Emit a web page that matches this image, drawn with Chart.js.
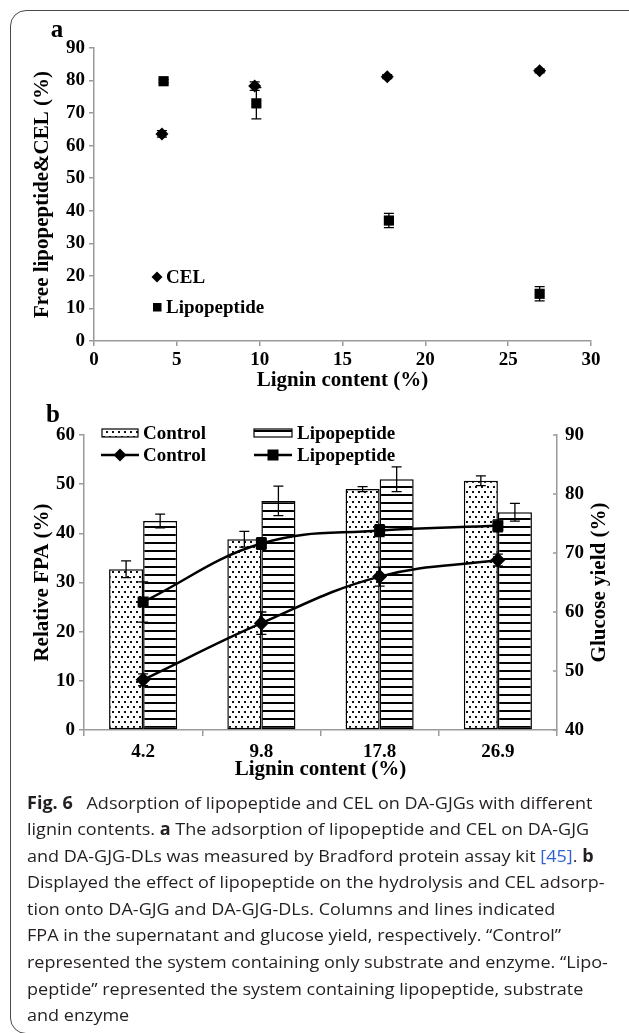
<!DOCTYPE html>
<html>
<head>
<meta charset="utf-8">
<script src="https://cdn.jsdelivr.net/npm/chart.js@4/dist/chart.umd.min.js"></script>
<style>
  html, body { margin: 0; padding: 0; background: #fff; width: 629px; height: 1033px; overflow: hidden; }
  #frame { position: absolute; left: 10px; top: 10px; width: 700px; height: 1022px; border: 1.4px solid #4a4a4a; border-radius: 16px; }
  canvas { position: absolute; left: 0; }
  #ca { top: 0; }
  #cb { top: 395px; }
  #cap { position: absolute; left: 26.5px; top: 789.5px; font-family: "Open Sans", sans-serif; font-size: 17px; line-height: 26.6px; color: #231f20; transform-origin: 0 0; white-space: nowrap; }
  #cap .ln { display: block; }
  #cap .ln span.t { display: inline-block; }
  #cap b { font-weight: 700; }
  .fig { margin-right: 13px; }
  .ref { color: #2f5fd0; }
</style>
</head>
<body>
<div id="frame"></div>
<canvas id="ca" width="629" height="400"></canvas>
<canvas id="cb" width="629" height="400"></canvas>
<div id="cap">
  <div class="ln"><span class="t"><b class="fig">Fig. 6</b>Adsorption of lipopeptide and CEL on DA-GJGs with different</span></div>
  <div class="ln"><span class="t">lignin contents. <b>a</b> The adsorption of lipopeptide and CEL on DA-GJG</span></div>
  <div class="ln"><span class="t">and DA-GJG-DLs was measured by Bradford protein assay kit <span class="ref">[45]</span>. <b>b</b></span></div>
  <div class="ln"><span class="t" id="l4">Displayed the effect of lipopeptide on the hydrolysis and CEL adsorp-</span></div>
  <div class="ln"><span class="t">tion onto DA-GJG and DA-GJG-DLs. Columns and lines indicated</span></div>
  <div class="ln"><span class="t">FPA in the supernatant and glucose yield, respectively. “Control”</span></div>
  <div class="ln"><span class="t">represented the system containing only substrate and enzyme. “Lipo-</span></div>
  <div class="ln"><span class="t">peptide” represented the system containing lipopeptide, substrate</span></div>
  <div class="ln"><span class="t">and enzyme</span></div>
</div>
<script>
// ---------- Panel a data ----------
const aCELLignin = [4.1, 9.7, 17.7, 26.9];
const aCEL = [63.6, 78.3, 81.2, 83.0];
const aCELErr = [1.0, 1.3, 0.6, 0.6];
const aLipoLignin = [4.2, 9.8, 17.8, 26.9];
const aLipo = [79.8, 73.0, 37.0, 14.5];
const aLipoErr = [0.5, 4.8, 2.2, 2.2];
const aXTicks = [0, 30, 5];   // min, max, step
const aYTicks = [0, 90, 10];

// ---------- Panel b data ----------
const bCategories = ['4.2', '9.8', '17.8', '26.9'];
const bFpaControl = [32.7, 38.8, 49.0, 50.7];
const bFpaControlErr = [1.7, 1.6, 0.5, 1.0];
const bFpaLipo = [42.5, 46.6, 51.0, 44.3];
const bFpaLipoErr = [1.4, 3.0, 2.5, 1.8];
const bGlucoseControl = [48.5, 58.1, 66.0, 68.8];
const bGlucoseControlErr = [1.0, 1.9, 1.6, 1.0];
const bGlucoseLipo = [61.7, 71.6, 73.8, 74.6];
const bGlucoseLipoErr = [3.4, 1.0, 1.0, 1.0];
const bLeftTicks = [0, 60, 10];
const bRightTicks = [40, 90, 10];

const SERIF = '"Liberation Serif", "Times New Roman", serif';
Chart.defaults.font.family = SERIF;
Chart.defaults.font.weight = 'bold';
Chart.defaults.color = '#000';

const AXIS = '#9a9a9a';

// ---------- patterns ----------
function dotPattern(ctx) {
  const c = document.createElement('canvas'); c.width = 6; c.height = 10;
  const g = c.getContext('2d');
  g.fillStyle = '#fff'; g.fillRect(0, 0, 6, 10);
  g.fillStyle = '#111';
  g.fillRect(1, 1, 2, 2); g.fillRect(4, 6, 2, 2);
  return ctx.createPattern(c, 'repeat');
}
function stripePattern(ctx) {
  const c = document.createElement('canvas'); c.width = 4; c.height = 8;
  const g = c.getContext('2d');
  g.fillStyle = '#fff'; g.fillRect(0, 0, 4, 8);
  g.fillStyle = '#000'; g.fillRect(0, 3, 4, 2);
  return ctx.createPattern(c, 'repeat');
}

// ---------- shared plugins ----------
const errorBarPlugin = {
  id: 'errbars',
  afterDatasetsDraw(chart) {
    const ctx = chart.ctx;
    ctx.save();
    ctx.strokeStyle = '#000';
    ctx.lineWidth = 1.3;
    chart.data.datasets.forEach((ds, di) => {
      if (!ds.errors) return;
      const meta = chart.getDatasetMeta(di);
      const ys = chart.scales[meta.yAxisID];
      meta.data.forEach((el, i) => {
        const d = ds.data[i];
        const v = (typeof d === 'object') ? d.y : d;
        const e = ds.errors[i];
        const x = el.x;
        const t = ys.getPixelForValue(v + e), b = ys.getPixelForValue(v - e);
        const cw = 5;
        ctx.beginPath();
        ctx.moveTo(x, t); ctx.lineTo(x, b);
        ctx.moveTo(x - cw, t); ctx.lineTo(x + cw, t);
        ctx.moveTo(x - cw, b); ctx.lineTo(x + cw, b);
        ctx.stroke();
      });
    });
    ctx.restore();
  }
};

function diamond(ctx, x, y, r) {
  ctx.beginPath();
  ctx.moveTo(x, y - r); ctx.lineTo(x + r, y); ctx.lineTo(x, y + r); ctx.lineTo(x - r, y);
  ctx.closePath(); ctx.fill();
}

// ---------- Panel a ----------
const legendA = {
  id: 'legendA',
  afterDraw(chart) {
    const ctx = chart.ctx;
    ctx.save();
    ctx.fillStyle = '#000';
    ctx.font = 'bold 25px ' + SERIF;
    ctx.textAlign = 'center'; ctx.textBaseline = 'middle';
    ctx.fillText('a', 57, 31);
    ctx.font = 'bold 19px ' + SERIF;
    ctx.textAlign = 'left';
    diamond(ctx, 157, 277, 5.5);
    ctx.fillText(chart.data.datasets[0].label, 166, 278);
    ctx.fillRect(153, 303, 8.5, 8.5);
    ctx.fillText(chart.data.datasets[1].label, 166, 308);
    ctx.restore();
  }
};

const ctxA = document.getElementById('ca').getContext('2d');
new Chart(ctxA, {
  type: 'scatter',
  data: {
    datasets: [
      {
        label: 'CEL',
        data: aCELLignin.map((x, i) => ({ x, y: aCEL[i] })),
        errors: aCELErr,
        pointStyle: 'rectRot', pointRadius: 6.5,
        backgroundColor: '#000', borderColor: '#000', borderWidth: 0
      },
      {
        label: 'Lipopeptide',
        data: aLipoLignin.map((x, i) => ({ x, y: aLipo[i] })),
        errors: aLipoErr,
        pointStyle: 'rect', pointRadius: 7.2,
        backgroundColor: '#000', borderColor: '#000', borderWidth: 0
      }
    ]
  },
  options: {
    responsive: false, animation: false, devicePixelRatio: 1,
    layout: { padding: { left: 0, top: 48, right: 38, bottom: 0 } },
    plugins: { legend: { display: false }, tooltip: { enabled: false } },
    scales: {
      x: {
        type: 'linear', min: aXTicks[0], max: aXTicks[1],
        ticks: { stepSize: aXTicks[2], font: { size: 19, weight: 'bold' }, color: '#000', padding: 3 },
        grid: { drawOnChartArea: false, tickLength: 5, color: AXIS, lineWidth: 1.5 },
        border: { color: AXIS, width: 1.5 },
        title: { display: true, text: 'Lignin content (%)', font: { size: 21, weight: 'bold' }, color: '#000', padding: { top: 0, bottom: 6.4 } },
        afterFit(s) { s.height = 59; }
      },
      y: {
        min: aYTicks[0], max: aYTicks[1],
        ticks: { stepSize: aYTicks[2], font: { size: 19, weight: 'bold' }, color: '#000', padding: 4 },
        grid: { drawOnChartArea: false, tickLength: 5, color: AXIS, lineWidth: 1.5 },
        border: { color: AXIS, width: 1.5 },
        title: { display: true, text: 'Free lipopeptide&CEL (%)', font: { size: 21, weight: 'bold' }, color: '#000', padding: { top: 30.4, bottom: 0 } },
        afterFit(s) { s.width = 94; }
      }
    }
  },
  plugins: [errorBarPlugin, legendA]
});

// ---------- Panel b ----------
const ctxB = document.getElementById('cb').getContext('2d');
const dots = dotPattern(ctxB);
const stripes = stripePattern(ctxB);

const legendB = {
  id: 'legendB',
  afterDraw(chart) {
    const ctx = chart.ctx;
    const ds = chart.data.datasets;
    ctx.save();
    ctx.fillStyle = '#000';
    ctx.font = 'bold 25px ' + SERIF;
    ctx.textAlign = 'center'; ctx.textBaseline = 'middle';
    ctx.fillText('b', 53, 21);
    // right axis title
    ctx.save();
    ctx.translate(600, 187.5);
    ctx.rotate(-Math.PI / 2);
    ctx.font = 'bold 21px ' + SERIF;
    ctx.fillText('Glucose yield (%)', 0, 0);
    ctx.restore();
    // inward ticks on right axis
    const r = chart.scales.y2;
    ctx.strokeStyle = AXIS; ctx.lineWidth = 1.5;
    r.ticks.forEach(t => {
      const y = r.getPixelForValue(t.value);
      ctx.beginPath(); ctx.moveTo(r.left - 4, y); ctx.lineTo(r.left, y); ctx.stroke();
    });
    // legend
    ctx.font = 'bold 19px ' + SERIF;
    ctx.textAlign = 'left';
    ctx.lineWidth = 1.2; ctx.strokeStyle = '#000';
    ctx.fillStyle = ds[0].backgroundColor; ctx.fillRect(102, 34, 36, 8); ctx.strokeRect(102, 34, 36, 8);
    ctx.fillStyle = ds[1].backgroundColor; ctx.fillRect(254, 34, 38, 8); ctx.strokeRect(254, 34, 38, 8);
    ctx.fillStyle = '#000';
    ctx.fillText(ds[0].label, 143, 39);
    ctx.fillText(ds[1].label, 297, 39);
    ctx.lineWidth = 2.5;
    ctx.beginPath(); ctx.moveTo(101, 60); ctx.lineTo(139, 60); ctx.stroke();
    diamond(ctx, 120, 60, 6.5);
    ctx.beginPath(); ctx.moveTo(254, 60); ctx.lineTo(292, 60); ctx.stroke();
    ctx.fillRect(267.5, 54.5, 11, 11);
    ctx.fillText(ds[2].label, 143, 61);
    ctx.fillText(ds[3].label, 297, 61);
    ctx.restore();
  }
};

new Chart(ctxB, {
  type: 'bar',
  data: {
    labels: bCategories,
    datasets: [
      { type: 'bar', label: 'Control', data: bFpaControl, errors: bFpaControlErr, yAxisID: 'y',
        backgroundColor: dots, borderColor: '#000', borderWidth: 1.5, borderSkipped: false, order: 2,
        categoryPercentage: 0.576, barPercentage: 1.0 },
      { type: 'bar', label: 'Lipopeptide', data: bFpaLipo, errors: bFpaLipoErr, yAxisID: 'y',
        backgroundColor: stripes, borderColor: '#000', borderWidth: 1.5, borderSkipped: false, order: 2,
        categoryPercentage: 0.576, barPercentage: 1.0 },
      { type: 'line', label: 'Control', data: bGlucoseControl, errors: bGlucoseControlErr, yAxisID: 'y2',
        borderColor: '#000', borderWidth: 2.5, tension: 0.4, fill: false,
        pointStyle: 'rectRot', pointRadius: 7.5, pointBackgroundColor: '#000', pointBorderWidth: 0, order: 1 },
      { type: 'line', label: 'Lipopeptide', data: bGlucoseLipo, errors: bGlucoseLipoErr, yAxisID: 'y2',
        borderColor: '#000', borderWidth: 2.5, tension: 0.4, fill: false,
        pointStyle: 'rect', pointRadius: 7.8, pointBackgroundColor: '#000', pointBorderWidth: 0, order: 1 }
    ]
  },
  options: {
    responsive: false, animation: false, devicePixelRatio: 1,
    layout: { padding: { left: 0, top: 40, right: 0, bottom: 0 } },
    plugins: { legend: { display: false }, tooltip: { enabled: false } },
    scales: {
      x: {
        type: 'category', offset: true,
        ticks: { font: { size: 19, weight: 'bold' }, color: '#000', padding: 5 },
        grid: { offset: true, drawOnChartArea: false, tickLength: 6, color: AXIS, lineWidth: 1.5 },
        border: { color: AXIS, width: 1.5 },
        title: { display: true, text: 'Lignin content (%)', font: { size: 21, weight: 'bold' }, color: '#000', padding: { top: 0, bottom: 12.4 } },
        afterFit(s) { s.height = 65; }
      },
      y: {
        position: 'left', min: bLeftTicks[0], max: bLeftTicks[1],
        ticks: { stepSize: bLeftTicks[2], font: { size: 19, weight: 'bold' }, color: '#000', padding: 4 },
        grid: { drawOnChartArea: false, tickLength: 5, color: AXIS, lineWidth: 1.5 },
        border: { color: AXIS, width: 1.5 },
        title: { display: true, text: 'Relative FPA (%)', font: { size: 21, weight: 'bold' }, color: '#000', padding: { top: 30.4, bottom: 0 } },
        afterFit(s) { s.width = 84; }
      },
      y2: {
        position: 'right', min: bRightTicks[0], max: bRightTicks[1],
        ticks: { stepSize: bRightTicks[2], font: { size: 19, weight: 'bold' }, color: '#000', padding: 8 },
        grid: { drawOnChartArea: false, drawTicks: false, color: AXIS, lineWidth: 1.5 },
        border: { color: AXIS, width: 1.5 },
        afterFit(s) { s.width = 72; }
      }
    }
  },
  plugins: [errorBarPlugin, legendB]
});

// ---------- caption fitting ----------
function fitCaption() {
  const cap = document.getElementById('cap');
  cap.style.transform = 'none';
  const w = document.getElementById('l4').getBoundingClientRect().width;
  if (w > 0) cap.style.transform = 'scaleX(' + (577.5 / w) + ')';
}
fitCaption();
if (document.fonts && document.fonts.ready) document.fonts.ready.then(fitCaption);
</script>
</body>
</html>
